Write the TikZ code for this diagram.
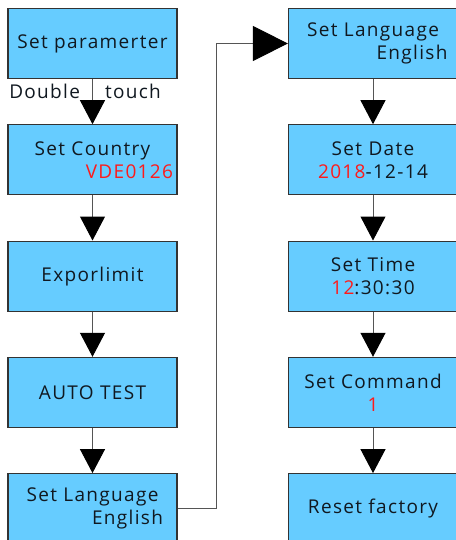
\documentclass[tikz,border=0pt]{standalone}
\usepackage{fontspec}
\setmainfont[LetterSpace=7]{Open Sans}
\usepackage{xcolor}
\usepackage{tikz}
\usetikzlibrary{arrows.meta,positioning}
\definecolor{boxblue}{HTML}{66CCFF}
\definecolor{flowred}{HTML}{FF1A1A}
\definecolor{linegray}{HTML}{555555}
\definecolor{textdark}{HTML}{101820}

\begin{document}
\begin{tikzpicture}[x=1pt, y=1pt, node distance=116.3pt, font=\fontsize{19}{23}\selectfont,
  state/.style={rectangle, draw=black!80, line width=1.2pt, fill=boxblue, text=textdark, text width=161pt, inner sep=4pt, align=center, minimum height=70pt},
  line/.style={draw=linegray, line width=1pt, -{Triangle[length=24pt,width=25pt,color=black]}},
  bigline/.style={draw=linegray, line width=1pt, -{Triangle[length=35pt,width=35pt,color=black]}}]

  \useasboundingbox (0,0) rectangle (455,-540);

  \node [state] (param) at (92.5,-43.5) {Set paramerter};
  \node [state, below of=param] (country) {Set Country\\\hspace*{0pt plus 1filll}\textcolor{flowred}{VDE0126}};
  \node [state, below of=country] (limit) {Exporlimit};
  \node [state, below of=limit] (autotest) {AUTO TEST};
  \node [state, below of=autotest] (langa) {Set Language\\\hspace*{0pt plus 1filll}English\hspace*{10pt}};

  \node [state, right of=param, node distance=280.5pt] (langb) {Set Language\\\hspace*{0pt plus 1filll}English\hspace*{6pt}};
  \node [state, below of=langb] (date) {Set Date\\\textcolor{flowred}{2018}-12-14};
  \node [state, below of=date] (time) {Set Time\\\textcolor{flowred}{12}:30:30};
  \node [state, below of=time] (command) {Set Command\\\textcolor{flowred}{1}};
  \node [state, below of=command] (reset) {Reset factory};

  \path [line] (param) -- node [pos=0.28, left=12pt, inner sep=0pt, text=textdark] {Double} node [pos=0.28, right=12pt, inner sep=0pt, text=textdark] {touch} (country);
  \path [line] (country) -- (limit);
  \path [line] (limit) -- (autotest);
  \path [line] (autotest) -- (langa);
  \path [bigline] (langa.east) -- ++(39,0) |- (langb.west);
  \path [line] (langb) -- (date);
  \path [line] (date) -- (time);
  \path [line] (time) -- (command);
  \path [line] (command) -- (reset);
\end{tikzpicture}
\end{document}
